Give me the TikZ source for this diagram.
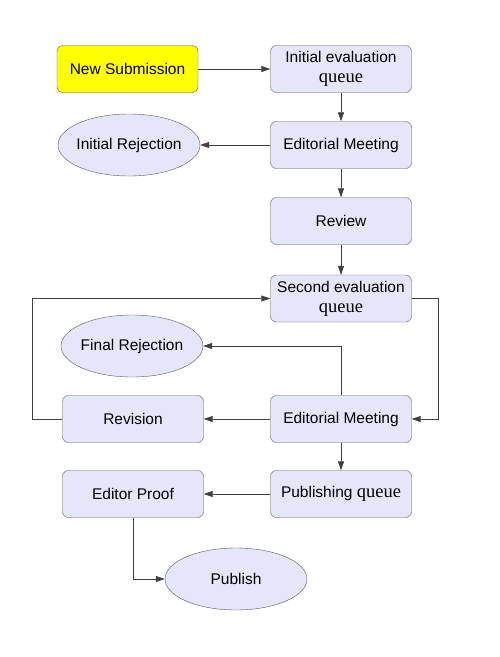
\documentclass[tikz,border=0pt]{standalone}
\usepackage{fontspec}
\setmainfont{Liberation Serif}
\setsansfont{Liberation Sans}
\usetikzlibrary{arrows.meta,shapes.geometric}
\definecolor{stagefill}{HTML}{E6E6FA}
\definecolor{startfill}{HTML}{FFFF00}
\newcommand{\qword}{\textrm{\fontsize{18.5}{20}\selectfont queue}}
\tikzset{
  stage/.style   = {draw=black!65, fill=stagefill, rounded corners=6pt, minimum width=141pt,
                    minimum height=47pt, inner sep=1pt, align=center,
                    font=\sffamily\fontsize{15.5}{20}\selectfont},
  outcome/.style = {ellipse, draw=black!65, fill=stagefill, minimum width=142pt,
                    minimum height=62pt, inner xsep=-12pt, inner ysep=1pt,
                    font=\sffamily\fontsize{15.5}{20}\selectfont},
  flow/.style    = {-{Triangle[length=9pt,width=6pt]}, black!75, line width=0.7pt},
}

\begin{document}
\begin{tikzpicture}[x=1pt,y=-1pt]
  \useasboundingbox (0,0) rectangle (500,657);
  \node[stage,fill=startfill] (newsub) at (127.5,69) {New Submission};
  \node[stage] (inieval)  at (341,69)  {Initial evaluation\\[0pt]\qword};
  \node[outcome] (inirej) at (129,145) {Initial Rejection};
  \node[stage] (edmeet)   at (341,145) {Editorial Meeting};
  \node[stage] (review)   at (341,221) {Review};
  \node[stage] (seceval)  at (341,298.5) {Second evaluation\\[0pt]\qword};
  \node[outcome] (finrej) at (132,346) {Final Rejection};
  \node[stage] (revision) at (133,419) {Revision};
  \node[stage] (edmeettwo) at (341,419) {Editorial Meeting};
  \node[stage] (proof)    at (133,494) {Editor Proof};
  \node[stage] (pubqueue) at (341,494) {Publishing \qword};
  \node[outcome] (publish) at (236,579) {Publish};
  \coordinate (loopright) at (438,298.5);
  \coordinate (loopleft)  at (32,419);

  \draw[flow] (newsub) -- (inieval);
  \draw[flow] (inieval) -- (edmeet);
  \draw[flow] (edmeet) -- (inirej);
  \draw[flow] (edmeet) -- (review);
  \draw[flow] (review) -- (seceval);
  \draw[flow] (seceval.east) -- (loopright) |- (edmeettwo.east);
  \draw[flow] (edmeettwo.north) |- (finrej.east);
  \draw[flow] (edmeettwo) -- (revision);
  \draw[flow] (revision.west) -- (loopleft) |- (seceval.west);
  \draw[flow] (edmeettwo) -- (pubqueue);
  \draw[flow] (pubqueue) -- (proof);
  \draw[flow] (proof.south) |- (publish.west);
\end{tikzpicture}
\end{document}
